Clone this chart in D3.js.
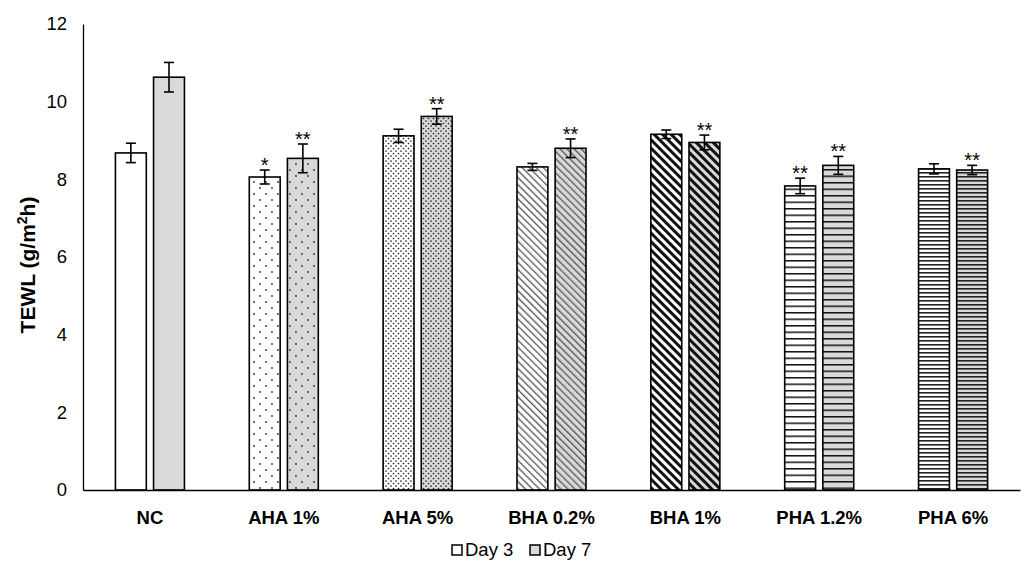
<!DOCTYPE html>
<meta charset="utf-8">
<style>
body { margin: 0; background: #fff; font-family: "Liberation Sans", Arial, sans-serif; }
.axis path { stroke: #000; stroke-width: 1.3px; }
.axis line { display: none; }
.axis text { font-size: 18.5px; fill: #000; font-family: "Liberation Sans", Arial, sans-serif; }
.x.axis text { font-weight: bold; font-size: 18.5px; }
</style>
<body>
<script src="https://d3js.org/d3.v7.min.js"></script>
<script>

var categories = ["NC", "AHA 1%", "AHA 5%", "BHA 0.2%", "BHA 1%", "PHA 1.2%", "PHA 6%"];
var series = ["Day 3", "Day 7"];
var day3 = [8.68, 8.06, 9.12, 8.32, 9.16, 7.83, 8.27];
var day7 = [10.63, 8.54, 9.62, 8.80, 8.95, 8.36, 8.24];
var err3 = [0.25, 0.18, 0.17, 0.09, 0.11, 0.20, 0.13];
var err7 = [0.38, 0.37, 0.20, 0.24, 0.19, 0.23, 0.12];
var sig3 = ["", "*", "", "", "", "**", ""];
var sig7 = ["", "**", "**", "**", "**", "**", "**"];
var yTicks = [0, 2, 4, 6, 8, 10, 12];

var width = 1030, height = 562;
var margin = {top: 24, right: 10, bottom: 72, left: 83};

var svg = d3.select("body").append("svg")
    .attr("width", width)
    .attr("height", height);

// patterns: one per category, white for day 3, grey for day 7
var defs = svg.append("defs");
var bg = {"Day 3": "#fff", "Day 7": "#d9d9d9"};

function pat(id, w, h, fill, draw) {
  var p = defs.append("pattern")
      .attr("id", id)
      .attr("patternUnits", "userSpaceOnUse")
      .attr("width", w).attr("height", h);
  p.append("rect").attr("width", w).attr("height", h).attr("fill", fill);
  draw(p);
}

series.forEach(function(s, si) {
  var f = bg[s];
  pat("p0_" + si, 4, 4, f, function(p) {});
  pat("p1_" + si, 12, 12, f, function(p) {
    p.append("circle").attr("cx", 2).attr("cy", 2).attr("r", 0.9).attr("fill", "#333");
    p.append("circle").attr("cx", 8).attr("cy", 8).attr("r", 0.9).attr("fill", "#333");
  });
  pat("p2_" + si, 5, 5, f, function(p) {
    p.append("circle").attr("cx", 1).attr("cy", 1).attr("r", 0.85).attr("fill", "#222");
    p.append("circle").attr("cx", 3.5).attr("cy", 3.5).attr("r", 0.85).attr("fill", "#222");
  });
  pat("p3_" + si, 5, 5, f, function(p) {
    p.attr("patternTransform", "rotate(-45)");
    p.append("rect").attr("x", 0).attr("y", 0).attr("width", 1.3).attr("height", 5).attr("fill", "#555");
  });
  pat("p4_" + si, 6, 6, f, function(p) {
    p.attr("patternTransform", "rotate(-45)");
    p.append("rect").attr("x", 0).attr("y", 0).attr("width", 3).attr("height", 6).attr("fill", "#111");
  });
  pat("p5_" + si, 6, 6.5, f, function(p) {
    p.append("rect").attr("x", 0).attr("y", 0).attr("width", 6).attr("height", 1.5).attr("fill", "#111");
  });
  pat("p6_" + si, 6, 4, f, function(p) {
    p.append("rect").attr("x", 0).attr("y", 0).attr("width", 6).attr("height", 1.6).attr("fill", "#222");
  });
});

var x = d3.scaleBand()
    .domain(categories)
    .range([margin.left, width - margin.right])
    .padding(0);

var xs = d3.scaleBand()
    .domain(series)
    .range([0, x.bandwidth()])
    .paddingInner(0.19)
    .paddingOuter(0.85);

var y = d3.scaleLinear()
    .domain([0, 12])
    .range([height - margin.bottom, margin.top]);

var rows = [];
categories.forEach(function(c, i) {
  rows.push({c: c, i: i, s: series[0], si: 0, v: day3[i], e: err3[i], sig: sig3[i]});
  rows.push({c: c, i: i, s: series[1], si: 1, v: day7[i], e: err7[i], sig: sig7[i]});
});

var g = svg.append("g");

g.selectAll(".bar")
    .data(rows)
  .enter().append("rect")
    .attr("class", "bar")
    .attr("x", function(d) { return x(d.c) + xs(d.s); })
    .attr("y", function(d) { return y(d.v); })
    .attr("width", xs.bandwidth())
    .attr("height", function(d) { return y(0) - y(d.v); })
    .attr("fill", function(d) { return "url(#p" + d.i + "_" + d.si + ")"; })
    .attr("stroke", "#000")
    .attr("stroke-width", 1.6);

// error bars
var cap = 5;
var eb = g.selectAll(".err")
    .data(rows)
  .enter().append("g")
    .attr("class", "err")
    .attr("stroke", "#000")
    .attr("stroke-width", 1.6);
eb.append("line")
    .attr("x1", function(d) { return x(d.c) + xs(d.s) + xs.bandwidth() / 2; })
    .attr("x2", function(d) { return x(d.c) + xs(d.s) + xs.bandwidth() / 2; })
    .attr("y1", function(d) { return y(d.v - d.e); })
    .attr("y2", function(d) { return y(d.v + d.e); });
[1, -1].forEach(function(k) {
  eb.append("line")
      .attr("x1", function(d) { return x(d.c) + xs(d.s) + xs.bandwidth() / 2 - cap; })
      .attr("x2", function(d) { return x(d.c) + xs(d.s) + xs.bandwidth() / 2 + cap; })
      .attr("y1", function(d) { return y(d.v + k * d.e); })
      .attr("y2", function(d) { return y(d.v + k * d.e); });
});

// significance stars
g.selectAll(".sig")
    .data(rows.filter(function(d) { return d.sig; }))
  .enter().append("text")
    .attr("class", "sig")
    .attr("x", function(d) { return x(d.c) + xs(d.s) + xs.bandwidth() / 2; })
    .attr("y", function(d) { return y(d.v + d.e) + 2; })
    .attr("text-anchor", "middle")
    .style("font-size", "20px")
    .text(function(d) { return d.sig; });

// axes
svg.append("g")
    .attr("class", "x axis")
    .attr("transform", "translate(0," + y(0) + ")")
    .call(d3.axisBottom(x).tickSize(0).tickSizeOuter(0).tickPadding(21));

svg.append("g")
    .attr("class", "y axis")
    .attr("transform", "translate(" + margin.left + ",0)")
    .call(d3.axisLeft(y).tickValues(yTicks).tickSize(0).tickSizeOuter(0).tickPadding(16));

svg.append("text")
    .attr("transform", "translate(35,265) rotate(-90)")
    .attr("text-anchor", "middle")
    .style("font-weight", "bold")
    .style("font-size", "21px")
    .html('TEWL (g/m<tspan baseline-shift="super" font-size="14px">2</tspan>h)');

// legend
var legend = svg.append("g")
    .attr("transform", "translate(452,556)");
var lx = [0, 78];
series.forEach(function(s, i) {
  legend.append("rect")
      .attr("x", lx[i]).attr("y", -11)
      .attr("width", 10).attr("height", 10)
      .attr("fill", bg[s])
      .attr("stroke", "#000")
      .attr("stroke-width", 1.5);
  legend.append("text")
      .attr("x", lx[i] + 13).attr("y", 0)
      .style("font-size", "18.5px")
      .text(s);
});

</script>
</body>
</html>
